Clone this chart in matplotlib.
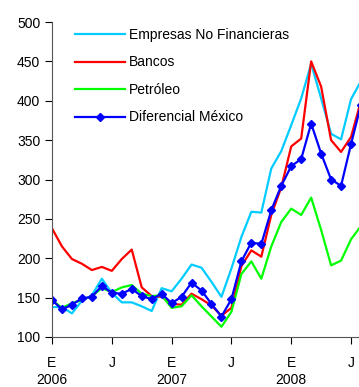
import numpy as np
import matplotlib
matplotlib.use('Agg')
import matplotlib.pyplot as plt

plt.rcParams['font.family'] = ['Liberation Sans', 'DejaVu Sans']

# meses desde enero 2006 (0) hasta agosto 2008 (31)
meses = np.arange(32)

empresas = [138, 138, 130, 146, 153, 174, 156, 144, 144, 139, 133, 162,
            158, 174, 192, 188, 170, 151, 187, 227, 259, 258, 314, 336,
            369, 403, 447, 403, 358, 351, 402, 425]
bancos = [238, 215, 199, 193, 185, 189, 184, 199, 211, 163, 152, 151,
          142, 141, 155, 148, 140, 127, 137, 190, 210, 202, 255, 290,
          342, 352, 450, 418, 350, 335, 354, 400]
petroleo = [147, 137, 143, 147, 152, 162, 157, 163, 166, 155, 152, 153,
            137, 139, 153, 139, 126, 113, 132, 180, 196, 174, 215, 246,
            263, 255, 277, 236, 191, 197, 224, 241]
diferencial = [147, 135, 141, 149, 151, 165, 156, 155, 161, 152, 148, 155,
               143, 151, 169, 159, 142, 126, 148, 196, 220, 218, 261, 292,
               317, 326, 371, 333, 300, 292, 345, 395]

tick_pos = [0, 6, 12, 18, 24, 30]
tick_labels = ['E', 'J', 'E', 'J', 'E', 'J']
years = ['2006', '2007', '2008']
year_pos = [0, 12, 24]

fig = plt.figure(figsize=(3.59, 3.87), dpi=100)
ax = fig.add_axes([52 / 359, 1 - 337 / 387, 1 - 52 / 359, 315 / 387])

lw = 1.6
ax.plot(meses, empresas, color='#00CCFF', lw=lw, label='Empresas No Financieras')
ax.plot(meses, bancos, color='#FF0000', lw=lw, label='Bancos')
ax.plot(meses, petroleo, color='#00FF00', lw=lw, label='Petróleo')
ax.plot(meses, diferencial, color='#0000FF', lw=lw, marker='D', ms=4,
        label='Diferencial México')

ax.set_xlim(0, 30.8)
ax.set_ylim(100, 500)
ax.set_yticks(np.arange(100, 501, 50))
ax.set_xticks(tick_pos)
ax.set_xticklabels(tick_labels)
ax.tick_params(axis='both', labelsize=10, direction='out', length=5, width=0.8)
ax.tick_params(axis='x', pad=9)

for s in ['top', 'right']:
    ax.spines[s].set_visible(False)
for s in ['left', 'bottom']:
    ax.spines[s].set_color('#555555')

# años debajo de las etiquetas de mes
for p, yr in zip(year_pos, years):
    ax.annotate(yr, xy=(p, 0), xycoords=('data', 'axes fraction'),
                xytext=(0, -43), textcoords='offset pixels',
                ha='center', va='center', fontsize=10)

ax.legend(loc='upper left', bbox_to_anchor=(0.075, 0.981), frameon=False,
          fontsize=10, handlelength=3.6, handletextpad=0.3,
          labelspacing=0.97, borderpad=0.0, borderaxespad=0.0)

plt.savefig('out.png', dpi=100)
